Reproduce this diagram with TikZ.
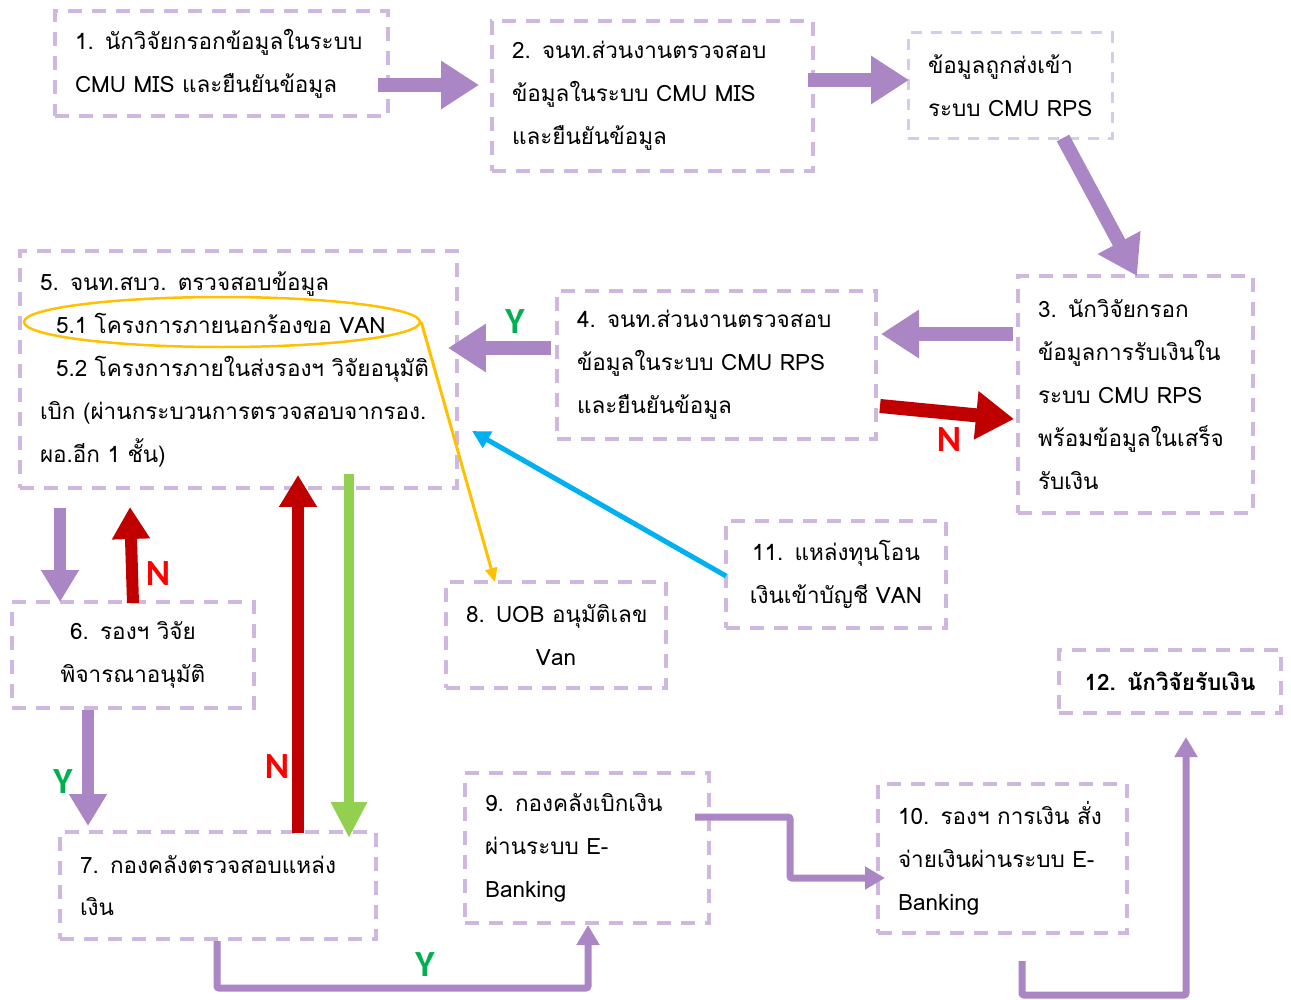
\documentclass[tikz,border=0pt]{standalone}
\usepackage{fontspec}
\setmainfont{Loma}[Script=Thai]
\newfontfamily\labfont{Carlito}
\usetikzlibrary{arrows.meta,shapes.geometric}
\newlength\pxu \setlength\pxu{0.02cm}
\DeclareRobustCommand\myboxfont{\fontsize{12.8}{24.4}\selectfont\spaceskip=0.24em\relax}
\DeclareRobustCommand\myboldfont{\fontsize{12.8}{24.4}\selectfont\bfseries\spaceskip=0.24em\relax}
\definecolor{boxc}{HTML}{CFB8E0}
\definecolor{rpsc}{HTML}{D3CDEB}
\definecolor{purp}{HTML}{AB86C5}
\definecolor{dred}{HTML}{C00000}
\definecolor{redN}{HTML}{FF0000}
\definecolor{greenY}{HTML}{00B050}
\definecolor{lgreen}{HTML}{92D050}
\definecolor{cyanb}{HTML}{00B0F0}
\definecolor{orng}{HTML}{FFC000}
\begin{document}
\begin{tikzpicture}[x=0.02cm,y=-0.02cm,
  box/.style={draw=boxc, line width=3.5\pxu, dash pattern=on 14\pxu off 10\pxu,
    inner xsep=20\pxu, inner ysep=0pt, align=left, font=\myboxfont},
  cbox/.style={box, align=center},
  bigarrow/.style={draw=purp, line width=14\pxu, -{Triangle[length=0.76cm,width=0.92cm]}},
  midarrow/.style={line width=12\pxu, -{Triangle[length=0.64cm,width=0.72cm]}},
  elbow/.style={draw=purp, line width=7\pxu, rounded corners=2\pxu, -{Triangle[length=0.40cm,width=0.44cm]}},
  lab/.style={font=\labfont\bfseries\fontsize{21}{21}\selectfont, inner sep=0pt}
]
\useasboundingbox (0,0) rectangle (1291,1000);

% boxes
\node[box, minimum width=333\pxu, minimum height=105\pxu, text width=293\pxu] (n1) at (221.5,63.5)
  {1. นักวิจัยกรอกข้อมูลในระบบ\\CMU MIS และยืนยันข้อมูล};
\node[box, minimum width=321\pxu, minimum height=150\pxu, text width=281\pxu] (n2) at (652.5,96)
  {2. จนท.ส่วนงานตรวจสอบ\\ข้อมูลในระบบ CMU MIS\\และยืนยันข้อมูล};
\node[box, draw=rpsc, line width=3\pxu, dash pattern=on 11\pxu off 9\pxu,
  minimum width=204\pxu, minimum height=106\pxu, text width=164\pxu] (nr) at (1010,86)
  {\mbox{ข้อมูลถูกส่งเข้า}\\\mbox{ระบบ CMU RPS}};
\node[box, minimum width=235\pxu, minimum height=237\pxu, text width=195\pxu] (n3) at (1135.5,394.5)
  {3. นักวิจัยกรอก\\ข้อมูลการรับเงินใน\\ระบบ CMU RPS\\พร้อมข้อมูลในเสร็จ\\รับเงิน};
\node[box, minimum width=319\pxu, minimum height=148\pxu, text width=279\pxu] (n4) at (716.5,365)
  {4. จนท.ส่วนงานตรวจสอบ\\ข้อมูลในระบบ CMU RPS\\และยืนยันข้อมูล};
\node[box, minimum width=437\pxu, minimum height=237\pxu, text width=397\pxu] (n5) at (238.5,369.5)
  {5. จนท.สบว. ตรวจสอบข้อมูล\\\hspace*{16\pxu}\mbox{5.1 โครงการภายนอกร้องขอ VAN}\\\hspace*{16\pxu}\mbox{5.2 โครงการภายในส่งรองฯ วิจัยอนุมัติ}\\\mbox{เบิก (ผ่านกระบวนการตรวจสอบจากรอง.}\\ผอ.อีก 1 ชั้น)};
\node[cbox, minimum width=242\pxu, minimum height=106\pxu, text width=202\pxu] (n6) at (133,655)
  {6. รองฯ วิจัย\\พิจารณาอนุมัติ};
\node[box, minimum width=316\pxu, minimum height=107\pxu, text width=276\pxu] (n7) at (218,885.5)
  {7. กองคลังตรวจสอบแหล่ง\\เงิน};
\node[cbox, minimum width=220\pxu, minimum height=106\pxu, text width=180\pxu] (n8) at (556,635)
  {\mbox{8. UOB อนุมัติเลข}\\Van};
\node[box, minimum width=244\pxu, minimum height=150\pxu, text width=204\pxu] (n9) at (587,848)
  {9. กองคลังเบิกเงิน\\ผ่านระบบ E-\\Banking};
\node[box, minimum width=249\pxu, minimum height=149\pxu, text width=209\pxu] (n10) at (1002.5,858.5)
  {10. รองฯ การเงิน สั่ง\\จ่ายเงินผ่านระบบ E-\\Banking};
\node[cbox, minimum width=220\pxu, minimum height=107\pxu, text width=180\pxu] (n11) at (836,574.5)
  {11. แหล่งทุนโอน\\เงินเข้าบัญชี VAN};
\node[cbox, minimum width=222\pxu, minimum height=63\pxu, text width=182\pxu, font=\myboldfont] (n12) at (1170,681.5)
  {12. นักวิจัยรับเงิน};

% ellipse around 5.1
\node[draw=orng, line width=2.5\pxu, ellipse, minimum width=396\pxu, minimum height=50\pxu] (e51) at (222,322) {};

% coordinates
\coordinate (a1s) at (378,85);  \coordinate (a1e) at (479,85);
\coordinate (a2s) at (808,80);  \coordinate (a2e) at (909,80);
\coordinate (a3s) at (1063,138); \coordinate (a3e) at (1137,276);
\coordinate (a4s) at (1013,334); \coordinate (a4e) at (881,334);
\coordinate (a5s) at (880,406); \coordinate (a5e) at (1014,419);
\coordinate (a6s) at (551,348); \coordinate (a6e) at (448,348);
\coordinate (a7e) at (495,582);
\coordinate (a8s) at (726,576); \coordinate (a8e) at (472,431);
\coordinate (a9s) at (60,508); \coordinate (a9e) at (60,602);
\coordinate (b1s) at (133,603); \coordinate (b1e) at (130,507);
\coordinate (b2s) at (88,710); \coordinate (b2e) at (88,826);
\coordinate (b3s) at (298,833); \coordinate (b3e) at (298,475);
\coordinate (b4s) at (349,474); \coordinate (b4e) at (349,838);
\coordinate (c1s) at (217,941); \coordinate (c1e) at (588,925);
\coordinate (c2s) at (695,817); \coordinate (c2e) at (885,878);
\coordinate (c3s) at (1022,961); \coordinate (c3e) at (1186,737);

% arrows
\draw[bigarrow] (a1s) -- (a1e);
\draw[bigarrow] (a2s) -- (a2e);
\draw[bigarrow] (a3s) -- (a3e);
\draw[bigarrow] (a4s) -- (a4e);
\draw[bigarrow, draw=dred] (a5s) -- (a5e);
\draw[bigarrow] (a6s) -- (a6e);
\draw[draw=orng, line width=3\pxu, -{Triangle[length=0.28cm,width=0.24cm]}] (e51.east) -- (a7e);
\draw[draw=cyanb, line width=5\pxu, -{Triangle[length=0.36cm,width=0.36cm]}] (a8s) -- (a8e);
\draw[midarrow, draw=purp] (a9s) -- (a9e);
\draw[midarrow, draw=dred] (b1s) -- (b1e);
\draw[midarrow, draw=purp] (b2s) -- (b2e);
\draw[midarrow, draw=dred] (b3s) -- (b3e);
\draw[draw=lgreen, line width=10\pxu, -{Triangle[length=0.72cm,width=0.68cm]}] (b4s) -- (b4e);
\draw[elbow] (c1s) -- (217,988) -- (588,988) -- (c1e);
\draw[elbow] (c2s) -- (790,817) -- (790,878) -- (c2e);
\draw[elbow] (c3s) -- (1022,995) -- (1186,995) -- (c3e);

% labels
\node[lab, text=redN] (ln1) at (949,440) {N};
\node[lab, text=greenY] (ly1) at (515,322) {Y};
\node[lab, text=redN] (ln2) at (158,574) {N};
\node[lab, text=greenY] (ly2) at (63,782) {Y};
\node[lab, text=redN] (ln3) at (277,767) {N};
\node[lab, text=greenY] (ly3) at (425,965) {Y};
\end{tikzpicture}
\end{document}
